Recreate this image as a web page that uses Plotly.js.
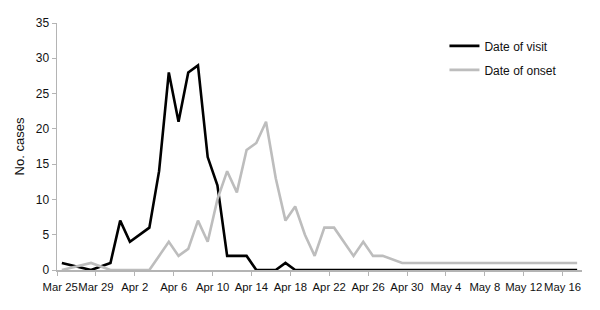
<!DOCTYPE html>
<html>
<head>
<meta charset="utf-8">
<script src="https://cdn.plot.ly/plotly-3.0.1.min.js"></script>
<style>
  html, body { margin: 0; padding: 0; background: #fff; }
  #chart { width: 600px; height: 310px; }
</style>
</head>
<body>
<div id="chart"></div>
<script>
// Day-by-day case counts, Mar 25 .. May 17 (null = no record for that day)
const visitCases = [
  1, null, null, 0, null, 1, 7, 4, 5, 6,
  14, 28, 21, 28, 29, 16, 12, 2, 2, 2,
  0, 0, 0, 1, 0, 0, 0, 0, 0, 0,
  0, 0, 0, 0, null, 0, 0, 0, 0, 0,
  0, 0, 0, 0, 0, 0, 0, 0, 0, 0,
  0, 0, 0, 0
];
const onsetCases = [
  0, null, null, 1, null, 0, 0, 0, 0, 0,
  2, 4, 2, 3, 7, 4, 10, 14, 11, 17,
  18, 21, 13, 7, 9, 5, 2, 6, 6, 4,
  2, 4, 2, 2, null, 1, 1, 1, 1, 1,
  1, 1, 1, 1, 1, 1, 1, 1, 1, 1,
  1, 1, 1, 1
];
const tickLabels = ["Mar 25", "Mar 29", "Apr 2", "Apr 6", "Apr 10", "Apr 14", "Apr 18",
                    "Apr 22", "Apr 26", "Apr 30", "May 4", "May 8", "May 12", "May 16"];
const seriesNames = ["Date of visit", "Date of onset"];

const dayIndex = visitCases.map((_, i) => i);
const tickPos = tickLabels.map((_, k) => 4 * k - 0.5);
const tickText = tickLabels.map((t, k) => k === 0 ? "\u00a0\u00a0" + t : t);

const font = { family: "Liberation Sans, Arial, sans-serif", size: 12, color: "#111111" };
const tickFont = { family: font.family, size: 11.3, color: "#111111" };
const axisGray = "#b4b4b4";

const traces = [
  {
    x: dayIndex, y: visitCases, name: seriesNames[0], type: "scatter", mode: "lines",
    connectgaps: true, legendgroup: "a",
    line: { color: "#000000", width: 2.6 }
  },
  {
    x: dayIndex, y: onsetCases, name: seriesNames[1], type: "scatter", mode: "lines",
    connectgaps: true, legendgroup: "b",
    line: { color: "#bdbdbd", width: 2.6 }
  }
];

const layout = {
  width: 600, height: 310,
  margin: { l: 57, r: 18, t: 23, b: 40 },
  paper_bgcolor: "#fff", plot_bgcolor: "#fff",
  font: font,
  showlegend: true,
  legend: {
    x: 0.738, y: 0.966, xanchor: "left", yanchor: "top",
    font: font, bgcolor: "rgba(0,0,0,0)", tracegroupgap: 5, itemwidth: 30
  },
  xaxis: {
    range: [-0.5, 53.5], tickmode: "array", tickvals: tickPos, ticktext: tickText,
    tickangle: 0,
    showgrid: false, zeroline: false, showline: true, linecolor: axisGray, linewidth: 1.5,
    ticks: "outside", ticklen: 4, tickcolor: axisGray, tickwidth: 1,
    tickfont: tickFont, ticklabelstandoff: 2, fixedrange: true
  },
  yaxis: {
    range: [0, 35], tickmode: "linear", tick0: 0, dtick: 5,
    showgrid: false, zeroline: false, showline: true, linecolor: axisGray, linewidth: 1.5,
    ticks: "outside", ticklen: 4, tickcolor: axisGray, tickwidth: 1,
    tickfont: font,
    title: { text: "No. cases", font: { family: font.family, size: 13, color: "#111111" }, standoff: 8 },
    fixedrange: true
  }
};

Plotly.newPlot("chart", traces, layout, { displayModeBar: false, staticPlot: true });
</script>
</body>
</html>
